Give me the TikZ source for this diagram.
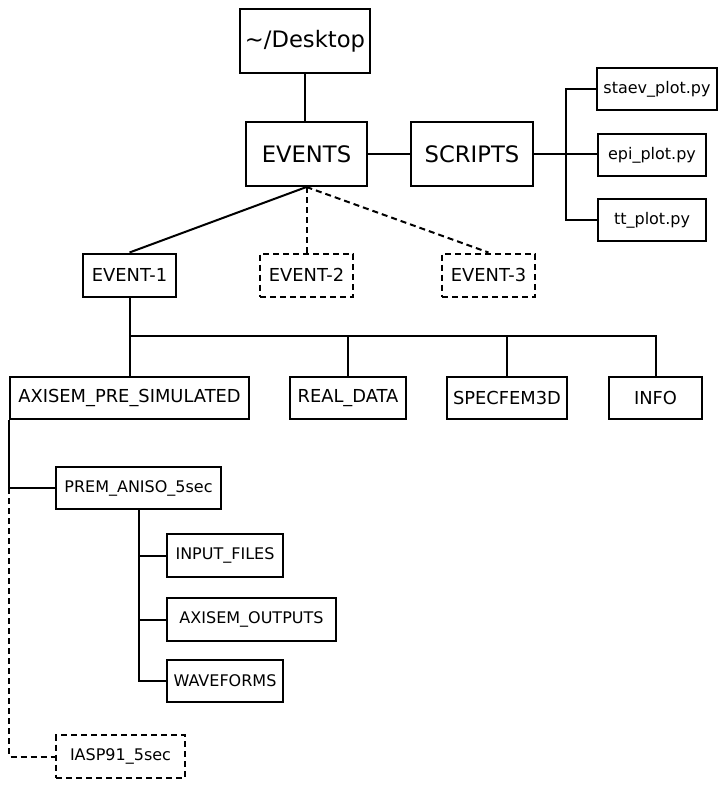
\documentclass[tikz,border=0pt]{standalone}
\usepackage{fontspec}
\setmainfont{DejaVu Sans}
\usepackage{tikz}
\usetikzlibrary{positioning}

\begin{document}
\begin{tikzpicture}[
  x=0.75pt, y=-0.75pt,
  box/.style={draw, line width=1.5pt, inner sep=0pt, align=center},
  topbox/.style={box, minimum height=48pt, font=\fontsize{17}{19}\selectfont},
  evbox/.style={box, minimum height=32.25pt, minimum width=69.75pt, font=\fontsize{13.4}{15}\selectfont},
  dirbox/.style={box, minimum height=31.5pt, font=\fontsize{13.4}{15}\selectfont},
  filebox/.style={box, minimum height=32pt, font=\fontsize{12}{14}\selectfont},
  maybe/.style={dash pattern=on 4.5pt off 3pt},
  link/.style={line width=1.5pt},
  dlink/.style={link, maybe}
]
\useasboundingbox[fill=white] (0,0) rectangle (725,788);

% top level
\node[topbox, minimum width=97.5pt] (desk) at (305,41) {\char`\~/Desktop};
\node[topbox, minimum width=90.75pt] (events) at (306.5,154) {EVENTS};
\node[topbox, minimum width=91.5pt] (scripts) at (472,154) {SCRIPTS};

% scripts
\node[filebox, minimum width=90pt] (staev) at (657,89) {staev\_plot.py};
\node[filebox, minimum width=81pt] (epi) at (652,155) {epi\_plot.py};
\node[filebox, minimum width=81pt] (tt) at (652,220) {tt\_plot.py};
\coordinate (sbus) at (566,0);

% events
\node[evbox] (ev1) at (129.5,275) {EVENT-1};
\node[evbox, maybe] (ev2) at (306.5,275) {EVENT-2};
\node[evbox, maybe] (ev3) at (488.5,275) {EVENT-3};
\coordinate (ebus) at (0,336);

% inside one event
\node[dirbox, minimum width=179.25pt] (axisem) at (129.5,398) {AXISEM\_PRE\_SIMULATED};
\node[dirbox, minimum width=87pt] (real) at (348,398) {REAL\_DATA};
\node[dirbox, minimum width=90pt] (specfem) at (507,398) {SPECFEM3D};
\node[dirbox, minimum width=69.75pt] (info) at (655.5,398) {INFO};

% models
\node[filebox, minimum width=123.75pt, minimum height=31.5pt] (prem) at (138.5,488) {PREM\_ANISO\_5sec};
\node[filebox, minimum width=87pt] (input) at (225,555.5) {INPUT\_FILES};
\node[filebox, minimum width=126.75pt] (outputs) at (251.5,619.5) {AXISEM\_OUTPUTS};
\node[filebox, minimum width=87pt] (wave) at (225,681) {WAVEFORMS};
\node[filebox, minimum width=96.75pt, maybe] (iasp) at (120.5,756.5) {IASP91\_5sec};

\draw[link] (desk.south) -- (desk.south |- events.north);
\draw[link] (events) -- (scripts);
\draw[link] (scripts.east) -- (scripts.east -| epi.west);
\draw[link] (staev.west) -| (sbus |- tt.west) -- (tt.west);

\draw[link] (events.south) -- (ev1.north);
\draw[dlink] (events.south) -- (ev2.north);
\draw[dlink] (events.south) -- (ev3.north);

\draw[link] (ev1.south) -- (axisem.north);
\draw[link] (axisem.north |- ebus) -| (info.north);
\foreach \d in {real, specfem}
  \draw[link] (\d.north |- ebus) -- (\d.north);

\draw[link] (axisem.south west) |- (prem.west);
\draw[dlink] (axisem.south west |- prem.west) |- (iasp.west);
\draw[link] (prem.south) |- (wave.west);
\foreach \f in {input, outputs}
  \draw[link] (prem.south |- \f.west) -- (\f.west);
\end{tikzpicture}
\end{document}
